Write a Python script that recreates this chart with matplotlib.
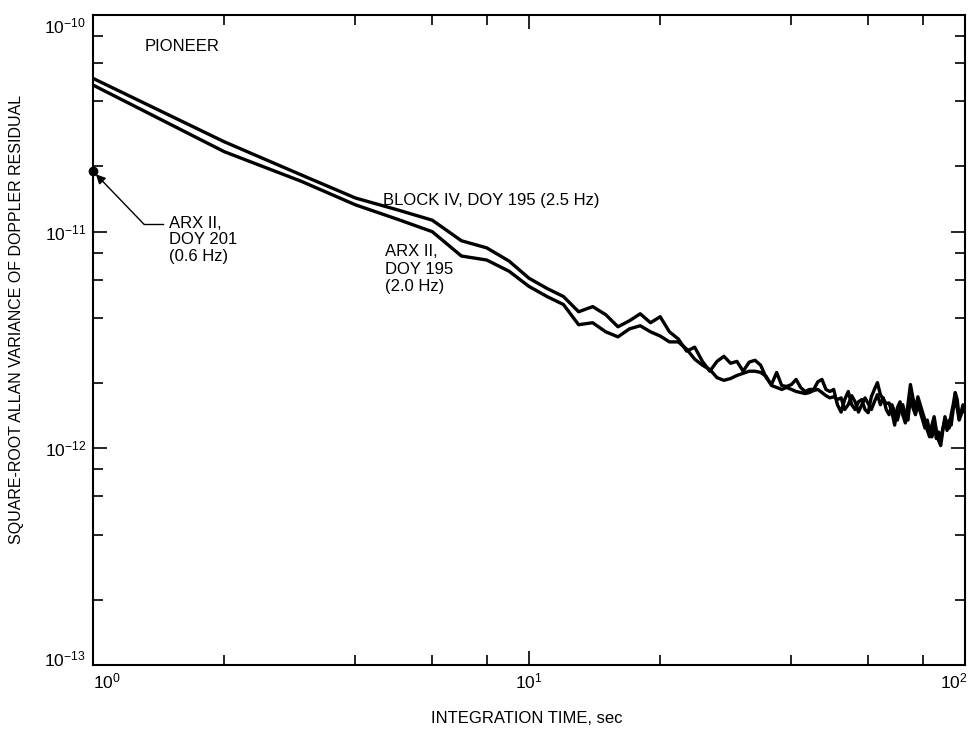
import numpy as np
import matplotlib
matplotlib.use("Agg")
import matplotlib.pyplot as plt
from matplotlib.ticker import LogLocator, NullFormatter
from matplotlib.transforms import ScaledTranslation

plt.rcParams['font.family'] = ['Liberation Sans', 'DejaVu Sans']

# integration time (s)
tau = np.arange(1, 101)

# square-root Allan variance, units of 1e-12
block4_doy195 = [
    51.0, 26.0, 18.3, 14.3, 12.6, 11.3, 9.08, 8.42, 7.32, 6.10,
    5.47, 5.02, 4.27, 4.51, 4.14, 3.64, 3.88, 4.18, 3.80, 4.05,
    3.45, 3.20, 2.81, 2.93, 2.52, 2.27, 2.52, 2.66, 2.47, 2.52,
    2.27, 2.50, 2.55, 2.42, 2.12, 1.97, 2.24, 1.95, 1.93, 1.97,
    2.08, 1.91, 1.83, 1.87, 1.87, 2.03, 2.08, 1.87, 1.83, 1.87,
    1.59, 1.47, 1.68, 1.83, 1.59, 1.51, 1.64, 1.68, 1.51, 1.46,
    1.73, 1.87, 2.01, 1.77, 1.68, 1.61, 1.62, 1.47, 1.28, 1.54,
    1.64, 1.43, 1.31, 1.59, 1.97, 1.71, 1.51, 1.73, 1.59, 1.46,
    1.35, 1.21, 1.13, 1.28, 1.40, 1.21, 1.09, 1.03, 1.21, 1.40,
    1.28, 1.24, 1.43, 1.59, 1.81, 1.68, 1.40, 1.47, 1.59, 1.55,
]
arx2_doy195 = [
    47.5, 23.4, 17.1, 13.3, 11.4, 10.0, 7.72, 7.40, 6.57, 5.59,
    5.02, 4.61, 3.72, 3.80, 3.45, 3.27, 3.56, 3.68, 3.45, 3.30,
    3.10, 3.10, 2.87, 2.58, 2.42, 2.31, 2.12, 2.06, 2.10, 2.17,
    2.22, 2.27, 2.27, 2.24, 2.15, 1.95, 1.91, 1.87, 1.91, 1.87,
    1.83, 1.81, 1.79, 1.81, 1.85, 1.87, 1.81, 1.75, 1.71, 1.73,
    1.68, 1.71, 1.51, 1.59, 1.75, 1.64, 1.47, 1.59, 1.71, 1.61,
    1.51, 1.64, 1.77, 1.59, 1.71, 1.51, 1.43, 1.59, 1.47, 1.35,
    1.51, 1.59, 1.43, 1.35, 1.71, 1.54, 1.43, 1.59, 1.47, 1.35,
    1.24, 1.35, 1.19, 1.13, 1.28, 1.11, 1.19, 1.09, 1.24, 1.35,
    1.21, 1.35, 1.28, 1.51, 1.68, 1.54, 1.35, 1.43, 1.51, 1.47,
]
# single point ARX II, DOY 201
arx2_doy201_tau = 1.0
arx2_doy201_val = 19.0

x_ticks = [1, 10, 100]
y_ticks = [1e-13, 1e-12, 1e-11, 1e-10]

fig = plt.figure(figsize=(9.72, 7.32), dpi=100)
ax = fig.add_axes([0.0957, 0.0915, 0.897, 0.888])

ax.plot(tau, np.array(block4_doy195) * 1e-12, color='black', lw=2.4)
ax.plot(tau, np.array(arx2_doy195) * 1e-12, color='black', lw=2.4)
ax.plot([arx2_doy201_tau], [arx2_doy201_val * 1e-12], 'o', color='black',
        ms=6, clip_on=False, zorder=5)

ax.set_xscale('log')
ax.set_yscale('log')
ax.set_xlim(1, 100)
ax.set_ylim(1e-13, 1e-10)
ax.set_xticks(x_ticks)
ax.set_yticks(y_ticks)

for axis in (ax.xaxis, ax.yaxis):
    axis.set_minor_locator(LogLocator(base=10, subs=[2, 4, 6, 8]))
    axis.set_minor_formatter(NullFormatter())

ax.tick_params(which='both', direction='in', top=True, right=True,
               labelsize=12.5, width=1.2, color='black')
ax.tick_params(which='major', length=10, pad=5)
ax.tick_params(which='minor', length=7)
for s in ax.spines.values():
    s.set_linewidth(1.5)

# nudge the corner tick labels inward like the original
def shift(lbl, dx, dy):
    lbl.set_transform(lbl.get_transform() +
                      ScaledTranslation(dx / 72, dy / 72, fig.dpi_scale_trans))

xt = ax.xaxis.get_major_ticks()
shift(xt[0].label1, 10, 0)
shift(xt[-1].label1, -8, 0)
yt = ax.yaxis.get_major_ticks()
shift(yt[0].label1, 0, 5)
shift(yt[-1].label1, 0, -7)

ax.set_xlabel('INTEGRATION TIME, sec', fontsize=12)
ax.xaxis.set_label_coords(0.497, -0.071)
ax.set_ylabel('SQUARE-ROOT ALLAN VARIANCE OF DOPPLER RESIDUAL', fontsize=11.5)
ax.yaxis.set_label_coords(-0.079, 0.531)

ax.text(0.0596, 0.951, 'PIONEER', transform=ax.transAxes, fontsize=12,
        va='center', ha='left')
ax.text(0.3326, 0.715, 'BLOCK IV, DOY 195 (2.5 Hz)', transform=ax.transAxes,
        fontsize=12, va='center', ha='left')
ax.text(0.335, 0.647, 'ARX II,\nDOY 195\n(2.0 Hz)', transform=ax.transAxes,
        fontsize=12, va='top', ha='left', linespacing=1.2)
ax.text(0.0872, 0.691, 'ARX II,\nDOY 201\n(0.6 Hz)', transform=ax.transAxes,
        fontsize=12, va='top', ha='left', linespacing=1.12)

# leader line with arrow to the DOY 201 point
ax.plot([0.0585, 0.0803], [0.678, 0.678], color='black', lw=1,
        transform=ax.transAxes)
ax.annotate('', xy=(arx2_doy201_tau, arx2_doy201_val * 1e-12), xycoords='data',
            xytext=(0.0585, 0.678), textcoords='axes fraction',
            arrowprops=dict(arrowstyle='-|>', color='black', lw=1,
                            shrinkA=0, shrinkB=3, mutation_scale=14))

fig.savefig('out.png', dpi=100)
